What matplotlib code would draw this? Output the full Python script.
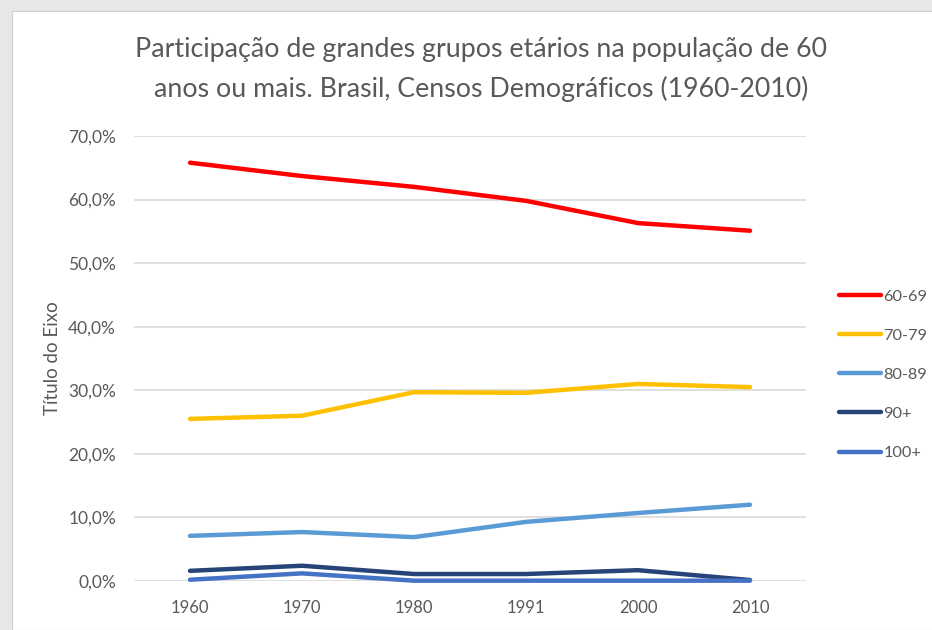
import matplotlib
matplotlib.use("Agg")
import matplotlib.pyplot as plt
from matplotlib.patches import Rectangle
from matplotlib.lines import Line2D
from matplotlib.ticker import FuncFormatter

years = ["1960", "1970", "1980", "1991", "2000", "2010"]
g60_69 = [65.8, 63.7, 62.0, 59.8, 56.3, 55.1]
g70_79 = [25.5, 26.0, 29.7, 29.6, 31.0, 30.5]
g80_89 = [7.1, 7.7, 6.9, 9.3, 10.7, 12.0]
g90 = [1.6, 2.4, 1.1, 1.1, 1.7, 0.15]
g100 = [0.2, 1.2, 0.05, 0.05, 0.05, 0.05]
series_names = ["60-69", "70-79", "80-89", "90+", "100+"]
series = [g60_69, g70_79, g80_89, g90, g100]
colors = ["#FF0000", "#FFC000", "#5B9BD5", "#264478", "#4472C4"]

plt.rcParams['font.family'] = ['Lato', 'DejaVu Sans']
txt = "#595959"

fig = plt.figure(figsize=(9.32, 6.3), dpi=100, facecolor="#E7E7E7")
fig.patches.append(Rectangle((12/932, 0), 1, 1 - 11/630, transform=fig.transFigure,
                             facecolor="white", edgecolor="#D0D0D0", lw=0.8, zorder=-10))

ax = fig.add_axes([134/932, 1 - 581/630, 672/932, 445/630])
ax.set_zorder(2)
ax.set_facecolor("none")
x = list(range(len(years)))
for name, vals, c in zip(series_names, series, colors):
    ax.plot(x, [v / 100 for v in vals], color=c, lw=3.2, solid_capstyle="round",
            solid_joinstyle="round", clip_on=False, label=name, zorder=3)

ax.set_xlim(-0.5, len(years) - 0.5)
ax.set_ylim(0, 0.70)
ax.set_yticks([i / 10 for i in range(8)])
ax.yaxis.set_major_formatter(FuncFormatter(lambda v, p: f"{v*100:.1f}%".replace(".", ",")))
ax.set_xticks(x)
ax.set_xticklabels(years)
ax.grid(axis="y", color="#D9D9D9", lw=1.2)
ax.set_axisbelow(True)
for s in ax.spines.values():
    s.set_visible(False)
ax.tick_params(axis="both", length=0, colors=txt)
ax.tick_params(axis="y", pad=13, labelsize=12.5)
ax.tick_params(axis="x", pad=14, labelsize=12)
ax.set_ylabel("Título do Eixo", color=txt, fontsize=13.5, labelpad=5)

fig.text(481/932, 1 - 49/630, "Participação de grandes grupos etários na população de 60",
         ha="center", va="center", fontsize=19.3, color=txt)
fig.text(481/932, 1 - 89/630, "anos ou mais. Brasil, Censos Demográficos (1960-2010)",
         ha="center", va="center", fontsize=19.3, color=txt)

handles = [Line2D([0], [0], color=c, lw=3.2, solid_capstyle="round") for c in colors]
leg = fig.legend(handles, series_names, loc="upper left", bbox_to_anchor=(832/932, 1 - 283/630),
                 frameon=False, fontsize=11.8, handlelength=2.6, handletextpad=0.15,
                 labelspacing=1.5, borderaxespad=0)
for t in leg.get_texts():
    t.set_color(txt)

fig.savefig("out.png", dpi=100, facecolor=fig.get_facecolor())
